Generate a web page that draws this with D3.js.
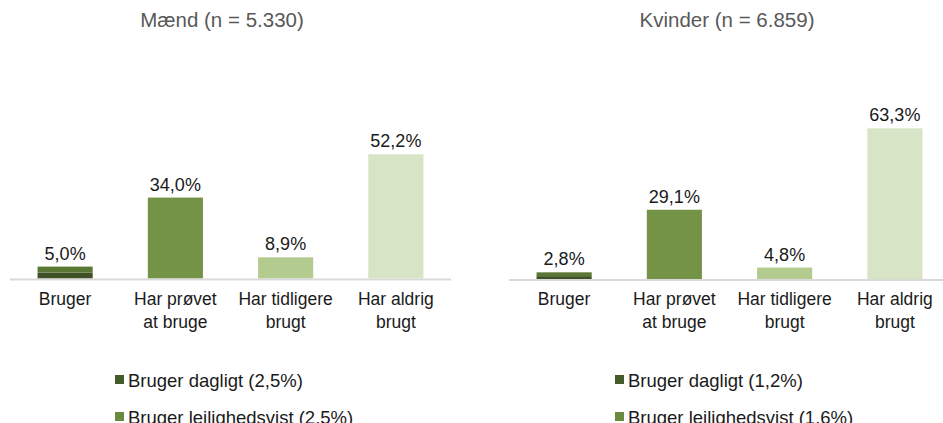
<!DOCTYPE html>
<html><head><meta charset="utf-8">
<script src="https://cdn.jsdelivr.net/npm/d3@7"></script>
<style>body{margin:0;background:#fff}svg{display:block;font-family:"Liberation Sans",Arial,sans-serif}</style>
</head><body><svg id="c" width="943" height="423"></svg>
<script>
const categories = ["Bruger", "Har prøvet\nat bruge", "Har tidligere\nbrugt", "Har aldrig\nbrugt"];
const panelTitles = ["Mænd (n = 5.330)", "Kvinder (n = 6.859)"];
const menDaily = 2.5, menOccasional = 2.5;
const womenDaily = 1.2, womenOccasional = 1.6;
const menValues = [5.0, 34.0, 8.9, 52.2];
const womenValues = [2.8, 29.1, 4.8, 63.3];
const legendLabels = [["Bruger dagligt (2,5%)", "Bruger lejlighedsvist (2,5%)"], ["Bruger dagligt (1,2%)", "Bruger lejlighedsvist (1,6%)"]];

const colDaily = "#3f5126", colOcc = "#5b7736";
const barColors = [null, "#759346", "#b3cb8e", "#d8e4c6"];
const legendColors = ["#435a2a", "#6a8b3e"];

const svg = d3.select("#c");
const fmt = v => d3.format(".1f")(v).replace(".", ",") + "%";

const panels = [
  {x0: 10, x1: 451, axisY: 278.5, title: panelTitles[0], titleX: 222, vals: menValues, daily: menDaily, occ: menOccasional, leg: legendLabels[0], legX: 115},
  {x0: 509, x1: 950, axisY: 279, title: panelTitles[1], titleX: 727, vals: womenValues, daily: womenDaily, occ: womenOccasional, leg: legendLabels[1], legX: 615}
];

panels.forEach(p => {
  const g = svg.append("g");
  const x = d3.scaleBand().domain(categories).range([p.x0, p.x1]).paddingInner(0.5).paddingOuter(0.25);
  const y = d3.scaleLinear().domain([0, 100]).range([p.axisY, p.axisY - 238]);

  g.append("text").attr("x", p.titleX).attr("y", 27).attr("text-anchor", "middle")
    .attr("fill", "#595959").attr("font-size", 20.5).text(p.title);

  const bx = x(categories[0]);
  g.append("rect").attr("x", bx).attr("width", x.bandwidth())
    .attr("y", y(p.daily)).attr("height", y(0) - y(p.daily)).attr("fill", colDaily);
  g.append("rect").attr("x", bx).attr("width", x.bandwidth())
    .attr("y", y(p.daily + p.occ)).attr("height", y(p.daily) - y(p.daily + p.occ)).attr("fill", colOcc);

  g.selectAll("rect.b").data(categories.slice(1)).join("rect").attr("class", "b")
    .attr("x", d => x(d)).attr("width", x.bandwidth())
    .attr("y", (d, i) => y(p.vals[i + 1])).attr("height", (d, i) => y(0) - y(p.vals[i + 1]))
    .attr("fill", (d, i) => barColors[i + 1]);

  g.selectAll("text.v").data(categories).join("text").attr("class", "v")
    .attr("x", d => x(d) + x.bandwidth() / 2)
    .attr("y", (d, i) => y(p.vals[i]) - 7)
    .attr("text-anchor", "middle").attr("font-size", 18).attr("fill", "#1a1a1a")
    .text((d, i) => fmt(p.vals[i]));

  g.append("line").attr("x1", p.x0).attr("x2", p.x1).attr("y1", p.axisY + 1).attr("y2", p.axisY + 1)
    .attr("stroke", "#d9d9d9").attr("stroke-width", 2);

  const ct = g.selectAll("text.c").data(categories).join("text").attr("class", "c")
    .attr("text-anchor", "middle").attr("font-size", 17.5).attr("fill", "#1a1a1a");
  ct.each(function(d) {
    const t = d3.select(this);
    d.split("\n").forEach((line, k) => {
      t.append("tspan").attr("x", x(d) + x.bandwidth() / 2).attr("y", 305 + k * 23).text(line);
    });
  });

  p.leg.forEach((lab, k) => {
    const ly = 375 + k * 37;
    g.append("rect").attr("x", p.legX).attr("y", ly).attr("width", 9).attr("height", 9).attr("fill", legendColors[k]);
    g.append("text").attr("x", p.legX + 13).attr("y", ly + 12).attr("font-size", 18.5).attr("fill", "#1a1a1a").text(lab);
  });
});
</script></body></html>
